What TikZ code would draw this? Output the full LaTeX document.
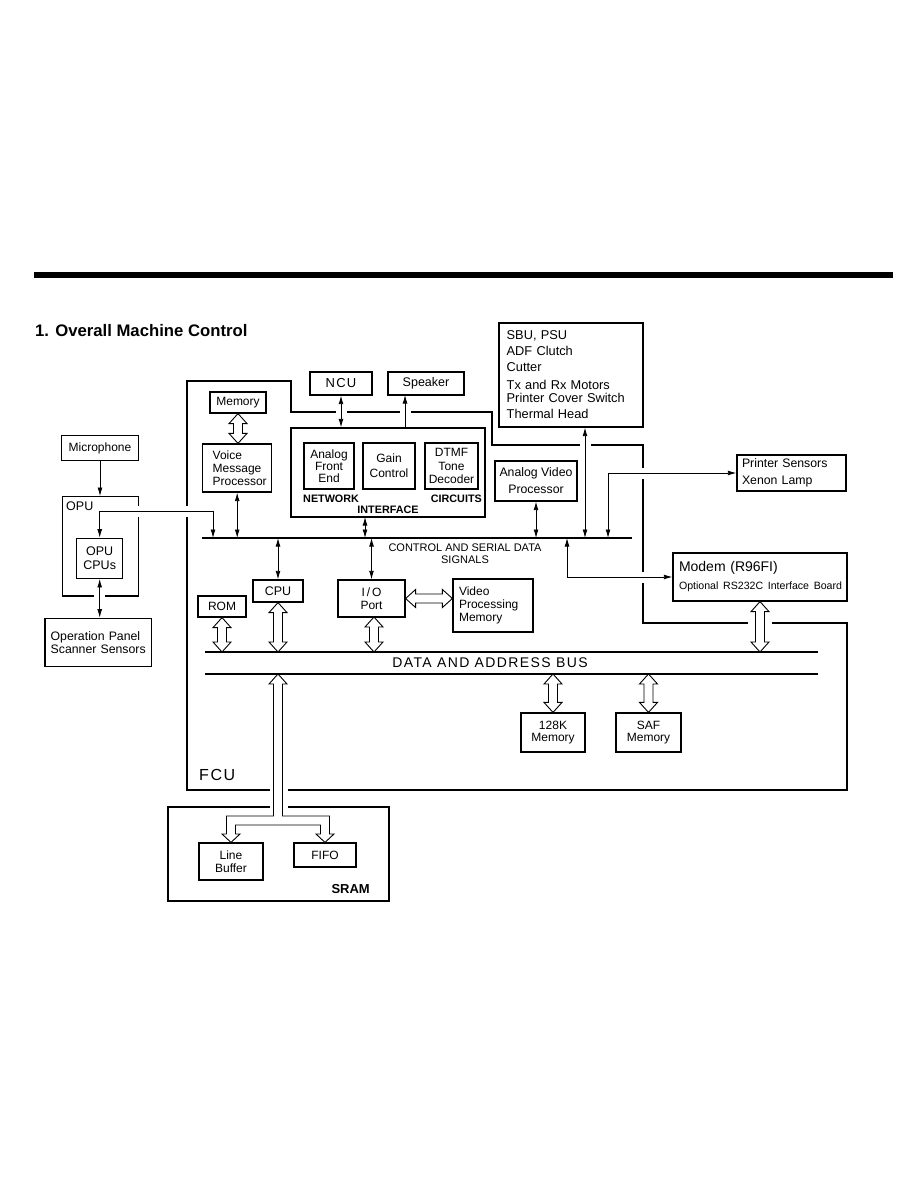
\documentclass[tikz,border=0pt]{standalone}
\usepackage{fontspec}
\setmainfont{Liberation Sans}
\newfontfamily\widesans[LetterSpace=10]{Liberation Sans}
\usetikzlibrary{arrows.meta, positioning, calc}
\newcommand{\fsz}[2]{\fontsize{#1}{#2}\selectfont}

\tikzset{
  blk/.style={draw, line width=1.2pt, inner sep=2pt, align=center, font=\fsz{12}{12.5}},
  lblk/.style={blk, align=left},
  frame/.style={draw, line width=1.2pt},
  sig/.style={line width=0.8pt},
  halo/.style={preaction={draw=white, line width=11pt, shorten <=9pt, shorten >=9pt, -}},
  busline/.style={line width=1.2pt},
  busarrow/.style={draw, fill=white, line width=0.9pt, to path={
    -- ($(\tikztostart)!10pt!(\tikztotarget)!9pt!90:(\tikztotarget)$)
    -- ($(\tikztostart)!10pt!(\tikztotarget)!4.5pt!90:(\tikztotarget)$)
    -- ($(\tikztotarget)!10pt!(\tikztostart)!4.5pt!-90:(\tikztostart)$)
    -- ($(\tikztotarget)!10pt!(\tikztostart)!9pt!-90:(\tikztostart)$)
    -- (\tikztotarget)
    -- ($(\tikztotarget)!10pt!(\tikztostart)!9pt!90:(\tikztostart)$)
    -- ($(\tikztotarget)!10pt!(\tikztostart)!4.5pt!90:(\tikztostart)$)
    -- ($(\tikztostart)!10pt!(\tikztotarget)!4.5pt!-90:(\tikztotarget)$)
    -- ($(\tikztostart)!10pt!(\tikztotarget)!9pt!-90:(\tikztotarget)$)
    -- cycle}}
}

\begin{document}
\begin{tikzpicture}[x=1pt, y=-1pt, >={Latex[length=8.5pt,width=4.8pt]}]
  \fill[white] (0,0) rectangle (918,1188);
  \useasboundingbox (0,0) rectangle (918,1188);
  % heading
  \fill[black] (34,272) rectangle (893,278);
  \node[anchor=base west, inner sep=0, font=\bfseries\fsz{16.7}{18}] (title) at (35,336) {1. Overall Machine Control};

  % FCU outline
  \draw[line width=2.2pt] (772,623) -- (847,623) -- (847,790) -- (288,790)
    (270,790) -- (187,790) -- (187,381) -- (291,381) -- (291,412) -- (492,412)
    -- (492,445) -- (643,445) -- (643,623) -- (748,623);
  \node[anchor=west, inner sep=0, font=\widesans\fsz{16}{16}] (fcu) at (199,775) {FCU};

  % OPU side
  \node[blk, minimum width=76.6, minimum height=25.7] (mic) at (100,448) {Microphone};
  \node[frame, minimum width=76, minimum height=99.3] (opu) at (100.3,546.3) {};
  \node[anchor=north west, inner sep=0, font=\fsz{12.5}{13}] (opulbl) at (66,501.5) {OPU};
  \node[blk, minimum width=46, minimum height=40, font=\fsz{12.5}{13.5}] (opucpu) at (99.7,558.3) {OPU\\CPUs};
  \node[lblk, text width=95.3, inner xsep=5.7, minimum height=48.4, font=\fsz{12.3}{13.3}] (oppanel) at (98.3,642.5) {Operation Panel\\Scanner Sensors};

  % control and serial data signals
  \coordinate (cb1) at (202,538);
  \coordinate (cb2) at (632,538);
  \draw[busline] (cb1) -- (cb2);
  \node[align=center, inner sep=0, font=\fsz{11}{12}] (cblbl) at (465,554) {CONTROL AND SERIAL DATA\\SIGNALS};

  % voice and network interface
  \node[blk, minimum width=56, minimum height=21] (mem) at (238,402.5) {Memory};
  \node[lblk, text width=49, inner xsep=10, minimum height=48, font=\fsz{12}{13}] (vmp) at (237.2,468) {Voice\\Message\\Processor};
  \node[blk, minimum width=62, minimum height=23, font=\widesans\fsz{13}{13}] (ncu) at (341,383.5) {NCU};
  \node[blk, minimum width=76, minimum height=23, font=\fsz{12.5}{13}] (spk) at (426,383.5) {Speaker};
  \node[frame, minimum width=194, minimum height=89] (ni) at (388,472.5) {};
  \node[blk, minimum width=50, minimum height=46, font=\fsz{12}{12}] (afe) at (329,466) {Analog\\Front\\End};
  \node[blk, minimum width=52, minimum height=46, font=\fsz{12}{15}] (gain) at (389,466) {Gain\\Control};
  \node[blk, minimum width=53, minimum height=46, font=\fsz{12}{13.5}] (dtmf) at (451.5,466) {DTMF\\Tone\\Decoder};
  \node[anchor=west, inner sep=0, font=\bfseries\fsz{10.8}{11}] (netlbl) at (303,499) {NETWORK};
  \node[anchor=east, inner sep=0, font=\bfseries\fsz{10.8}{11}] (cirlbl) at (482,499) {CIRCUITS};
  \node[inner sep=0, font=\bfseries\fsz{10.8}{11}] (intlbl) at (388,510) {INTERFACE};

  % units outside the FCU
  \node[lblk, text width=128.6, inner xsep=7.7, minimum height=104, font=\fsz{12.8}{16}] (sbu) at (571,375)
    {SBU, PSU\\ADF Clutch\\Cutter\\[2pt]Tx and Rx Motors\\[-3pt]Printer Cover Switch\\Thermal Head};
  \node[blk, minimum width=82, minimum height=40, font=\fsz{12.3}{17}] (avp) at (536,481) {Analog Video\\Processor};
  \node[lblk, text width=99, inner xsep=5, minimum height=36, font=\fsz{12.3}{17}] (prs) at (791.5,473) {Printer Sensors\\Xenon Lamp};
  \node[lblk, text width=166, inner xsep=4, minimum height=48, font=\fsz{14}{18}] (modem) at (760,577)
    {\hspace{2pt}Modem (R96FI)\\\mbox{\fsz{10.6}{12}\hspace{2pt}Optional RS232C Interface Board}};

  % processor and memories
  \node[blk, minimum width=48, minimum height=21] (rom) at (222,606.5) {ROM};
  \node[blk, minimum width=50, minimum height=22, font=\fsz{12.5}{13}] (cpu) at (278,591) {CPU};
  \node[blk, minimum width=67, minimum height=37, font=\fsz{12}{12.5}] (io) at (371.5,598.5) {I\,/\,O\\Port};
  \node[lblk, text width=68, inner xsep=6, minimum height=53, font=\fsz{12}{13}] (vpm) at (493,605.5) {Video\\Processing\\Memory};
  \node[blk, minimum width=64, minimum height=39, font=\fsz{12}{12}] (m128) at (553,732.5) {128K\\Memory};
  \node[blk, minimum width=65, minimum height=39, font=\fsz{12}{12}] (saf) at (648.5,732.5) {SAF\\Memory};

  % data and address bus
  \coordinate (db1) at (205,652);
  \coordinate (db2) at (818,652);
  \coordinate (db3) at (205,674);
  \coordinate (db4) at (818,674);
  \draw[busline] (db1) -- (db2) (db3) -- (db4);
  \node[inner sep=0, font=\widesans\fsz{14}{14}] (dblbl) at (490,663) {DATA AND ADDRESS BUS};

  % SRAM
  \node[frame, minimum width=221, minimum height=94] (sram) at (278.5,854) {};
  \node[anchor=base east, inner sep=0, font=\bfseries\fsz{13}{13}] (sramlbl) at (370,893) {SRAM};
  \node[blk, minimum width=64, minimum height=37, font=\fsz{12}{12.5}] (lbuf) at (231,861.5) {Line\\Buffer};
  \node[blk, minimum width=62, minimum height=24] (fifo) at (325,855) {FIFO};

  % bus taps
  \coordinate (opujoin) at (213,511);
  \coordinate (spktap) at (405,395);
  \coordinate (nitap) at (365,517);
  \coordinate (sbutap) at (585,538);
  \coordinate (prstap) at (608,538);
  \coordinate (modtap) at (567,538);
  \coordinate (iotap) at (374,617);

  % single signal lines
  \draw[->, sig] (mic.south) -- (mic.south |- opu.north);
  \draw[<->, sig, halo] (opucpu.north) |- (opujoin) -- (opujoin |- cb1);
  \draw[<->, sig, halo] (opucpu.south) -- (opucpu.south |- oppanel.north);
  \draw[<->, sig] (vmp.south) -- (vmp.south |- cb1);
  \draw[<->, sig, halo] (ncu.south) -- (ncu.south |- ni.north);
  \draw[->, sig, halo] (spktap |- ni.north) -- (spktap);
  \draw[<->, sig] (nitap) -- (nitap |- cb1);
  \draw[<->, sig, halo] (sbutap) -- (sbutap |- sbu.south);
  \draw[<->, sig] (avp.south) -- (avp.south |- cb1);
  \draw[<->, sig, halo] (prstap) |- (prs.west);
  \draw[<->, sig, halo] (modtap) |- (modem.west);
  \draw[<->, sig] (cpu.north) -- (cpu.north |- cb1);
  \draw[<->, sig] (io.north) -- (io.north |- cb1);

  % outline double arrows
  \coordinate (vmptop) at (mem.south |- vmp.north);
  \coordinate (rombus) at (rom.south |- db1);
  \coordinate (cpubus) at (cpu.south |- db1);
  \coordinate (iobus) at (iotap |- db1);
  \coordinate (vpmin) at (io.east -| vpm.west);
  \coordinate (modbus) at (modem.south |- db1);
  \coordinate (m128bus) at (m128.north |- db3);
  \coordinate (safbus) at (saf.north |- db3);
  \draw[busarrow] (mem.south) to (vmptop);
  \draw[busarrow] (rom.south) to (rombus);
  \draw[busarrow] (cpu.south) to (cpubus);
  \draw[busarrow] (iotap) to (iobus);
  \draw[busarrow] (io.east) to (vpmin);
  \draw[busarrow] (modem.south) to (modbus);
  \draw[busarrow] (m128bus) to (m128.north);
  \draw[busarrow] (safbus) to (saf.north);

  % SRAM branch arrow
  \fill[white] (270,803) rectangle (288,811);
  \draw[fill=white, line width=0.9pt] (278,674) -- (287,684) -- (282.5,684) -- (282.5,816)
    -- (329.5,816) -- (329.5,834) -- (334,834) -- (fifo.north) -- (316,834) -- (320.5,834)
    -- (320.5,825) -- (235.5,825) -- (235.5,834) -- (240,834) -- (lbuf.north) -- (222,834)
    -- (226.5,834) -- (226.5,816) -- (273.5,816) -- (273.5,684) -- (269,684) -- cycle;
\end{tikzpicture}
\end{document}
